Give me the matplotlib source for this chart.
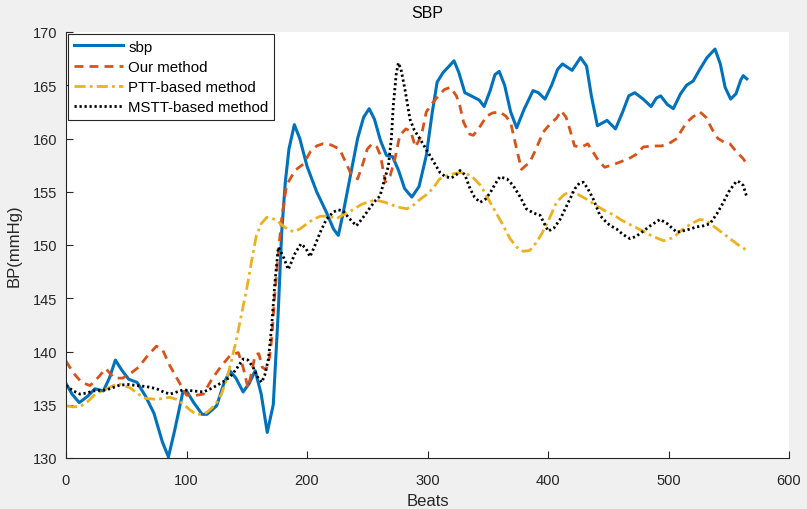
import matplotlib
matplotlib.use("Agg")
import matplotlib.pyplot as plt

plt.rcParams['font.family'] = ['Liberation Sans', 'DejaVu Sans']

# ---- data ----
sbp_x = [0, 5, 11, 18, 24, 31, 36, 41, 46, 52, 59, 66, 73, 80, 85, 90, 97, 100, 106, 113, 117, 125,
         131, 136, 141, 147, 152, 157, 162, 167, 172, 176, 179, 182, 185, 189.5, 194, 200, 208, 216,
         222, 226, 230, 236, 242, 247, 251.6, 256, 261, 266, 271, 276, 281, 287, 293, 299, 304, 308,
         313, 318, 322, 326, 331, 338, 343, 347, 352, 356, 359.5, 364, 369, 374, 380, 387.6, 392,
         397.5, 403, 408, 412, 420, 427, 432, 436, 441, 449, 456, 462, 467, 472, 479, 485.5, 490,
         493.5, 499, 504, 510, 515, 520.5, 526, 532, 538.6, 543, 547, 551.6, 556, 560, 562, 565]
sbp_y = [137.0, 136.0, 135.2, 135.8, 136.5, 136.3, 137.5, 139.2, 138.3, 137.4, 137.1, 135.8, 134.2,
         131.5, 130.1, 132.5, 136.2, 136.3, 135.2, 134.1, 134.1, 134.9, 137.0, 138.2, 137.5, 136.2,
         137.0, 138.2, 136.0, 132.4, 135.0, 143.4, 151.2, 155.9, 159.0, 161.3, 160.0, 157.4, 155.0,
         153.1, 151.5, 150.9, 153.0, 156.5, 160.0, 162.0, 162.8, 161.8, 159.8, 158.4, 158.3, 157.0,
         155.3, 154.5, 155.5, 158.4, 162.5, 165.3, 166.2, 166.8, 167.3, 166.2, 164.3, 163.9, 163.6,
         163.0, 164.5, 166.0, 166.3, 165.0, 162.5, 161.0, 162.7, 164.5, 164.3, 163.7, 165.0, 166.5,
         167.0, 166.4, 167.6, 166.8, 164.0, 161.2, 161.7, 160.9, 162.5, 164.0, 164.3, 163.7, 163.0,
         163.8, 164.0, 163.2, 162.8, 164.2, 165.0, 165.4, 166.5, 167.6, 168.4, 167.0, 164.8, 163.7,
         164.2, 165.5, 165.9, 165.6]

our_x = [0, 6, 13, 20, 27, 33, 40, 47, 53, 60, 67, 75, 80, 86, 93, 100, 106, 114, 121, 128, 136,
         143, 147, 151, 154, 157, 160, 163, 166, 169, 171, 173, 176, 179, 183, 190, 197, 203, 208,
         213, 220, 227, 232, 236, 242, 246, 250, 254, 258, 261, 265, 269, 273, 277, 282, 286, 290,
         295, 299, 304, 309, 314, 319, 324, 327, 330, 335, 338, 344, 349, 354, 360, 365, 369, 374,
         378, 385, 390, 396, 402, 407, 411, 415, 418, 422, 428, 433, 437, 442, 447, 453, 460, 467,
         473, 479, 486, 494, 500, 507, 511, 515, 520, 526, 531, 536, 541, 547, 551, 556, 562, 565]
our_y = [139.1, 138.0, 137.1, 136.8, 137.6, 138.4, 137.5, 137.5, 137.9, 138.5, 139.5, 140.5, 140.2,
         138.7, 137.3, 135.9, 135.85, 136.0, 137.4, 138.5, 139.6, 139.9, 138.5, 136.6, 138.0, 139.7,
         139.8, 138.5, 138.3, 139.5, 141.5, 145.0, 149.0, 152.5, 155.6, 157.0, 157.6, 158.8, 159.3,
         159.5, 159.4, 159.0, 157.8, 156.8, 156.2, 157.5, 159.0, 159.5, 159.2, 158.4, 155.9, 156.5,
         158.1, 160.3, 160.9, 160.7, 159.2, 160.3, 162.5, 163.3, 164.0, 164.6, 164.8, 164.0, 163.0,
         161.5, 160.4, 160.3, 161.2, 162.1, 162.4, 162.5, 162.1, 161.5, 159.0, 157.1, 157.8, 159.0,
         160.6, 161.4, 161.9, 162.6, 162.0, 160.9, 159.3, 159.2, 159.5, 158.8, 157.9, 157.3, 157.5,
         157.8, 158.1, 158.5, 159.2, 159.3, 159.3, 159.5, 160.0, 160.8, 161.5, 162.0, 162.5, 162.0,
         160.9, 160.0, 159.6, 159.5, 158.8, 158.1, 157.6]

ptt_x = [0, 6, 12, 18, 23, 28, 34, 43, 53, 60, 66, 75, 86, 92, 97, 103, 108, 113, 117, 121, 125,
         129, 133, 137, 141.6, 146, 150, 154, 158, 162, 166.6, 171, 175, 180, 185, 189, 194, 200,
         205, 211, 218, 225, 231, 238, 245, 252, 258, 265, 272, 278, 283, 289, 294, 300, 305, 310,
         316, 322, 327, 332.5, 338, 344, 349, 355, 362, 368.5, 374, 379.5, 385, 390, 394, 400, 407,
         413, 418, 424, 432, 440, 449, 455, 460, 470, 479, 487, 496, 504, 512, 519, 526, 531, 537,
         544, 551, 558, 565]
ptt_y = [134.9, 134.8, 134.85, 135.3, 135.85, 136.2, 136.5, 137.0, 136.6, 136.0, 135.6, 135.5, 135.7,
         135.5, 135.1, 134.5, 134.1, 134.1, 134.3, 134.7, 135.2, 136.0, 137.3, 139.0, 141.2, 143.7,
         145.9, 148.5, 150.9, 152.0, 152.6, 152.5, 152.3, 151.8, 151.4, 151.25, 151.5, 152.0, 152.4,
         152.7, 152.7, 152.5, 152.9, 153.3, 153.8, 154.1, 154.2, 154.0, 153.7, 153.5, 153.4, 153.8,
         154.3, 154.8, 155.4, 156.2, 156.5, 156.7, 156.8, 156.7, 156.3, 155.6, 154.6, 153.4, 152.0,
         150.6, 149.8, 149.4, 149.5, 150.2, 150.9, 152.2, 154.0, 154.7, 155.0, 154.8, 154.3, 153.7,
         153.1, 152.8, 152.4, 151.8, 151.3, 150.8, 150.4, 150.7, 151.5, 152.0, 152.4, 152.3, 151.8,
         151.2, 150.6, 150.0, 149.5]

mstt_x = [0, 6, 11.6, 17, 22.7, 33.8, 44.8, 52, 58.7, 67, 75.3, 81, 86.3, 92, 97.3, 105.6, 114, 120,
          125, 131, 136, 141, 147, 151, 155.4, 159, 162.4, 165, 168, 170.7, 173.4, 176.2, 180, 184.5,
          190, 195, 199, 202.5, 206, 211, 216, 221.8, 226, 230, 235, 241, 246, 252.3, 257, 260.6,
          264, 267.5, 270, 271.6, 274, 275.8, 278, 281.3, 285.5, 289, 293.8, 302, 310.4, 315, 320,
          324, 327, 331, 335.3, 339, 343.6, 348, 352, 356, 360, 366, 371, 377, 382, 388, 393.4, 397,
          400.2, 405, 410, 416, 422.4, 426, 429.3, 433, 437.6, 443, 448.7, 452, 457, 462, 468, 473,
          479, 486, 493, 499, 506.8, 515, 523.4, 529, 534.4, 540, 545.5, 550, 553.8, 556.6, 559, 562,
          565]
mstt_y = [136.8, 136.3, 136.0, 136.1, 136.3, 136.4, 136.85, 136.9, 136.8, 136.7, 136.5, 136.2, 136.0,
          136.2, 136.4, 136.3, 136.2, 136.5, 136.8, 137.2, 137.6, 138.3, 139.3, 139.2, 138.5, 137.6,
          137.1, 137.8, 139.3, 142.4, 146.5, 149.8, 149.0, 147.7, 149.2, 150.1, 149.7, 148.9, 149.8,
          151.2, 152.4, 153.1, 153.3, 153.2, 152.5, 151.8, 152.5, 153.5, 154.2, 154.6, 156.0, 157.4,
          160.0, 163.1, 166.0, 167.1, 166.5, 164.6, 161.8, 160.8, 159.95, 158.4, 156.8, 156.4, 156.3,
          156.6, 157.0, 156.6, 155.3, 154.5, 154.0, 154.3, 154.9, 155.7, 156.4, 156.2, 155.6, 154.5,
          153.4, 153.0, 152.8, 152.0, 151.3, 151.6, 152.4, 153.8, 155.3, 155.8, 155.9, 155.3, 154.3,
          152.8, 152.1, 151.8, 151.5, 151.0, 150.6, 150.8, 151.3, 151.9, 152.4, 152.0, 151.2, 151.4,
          151.7, 151.8, 152.0, 152.9, 154.0, 155.0, 155.6, 156.0, 155.9, 155.6, 154.5]

labels = ['sbp', 'Our method', 'PTT-based method', 'MSTT-based method']
x_ticks = [0, 100, 200, 300, 400, 500, 600]
y_ticks = [130, 135, 140, 145, 150, 155, 160, 165, 170]

# ---- figure ----
fig = plt.figure(figsize=(8.07, 5.10), dpi=100, facecolor='#f0f0f0')
ax = fig.add_axes([66 / 807, 51 / 510, 723 / 807, 426 / 510])
ax.set_facecolor('white')

ax.plot(sbp_x, sbp_y, color='#0072BD', lw=2.2, ls='-', label=labels[0])
ax.plot(our_x, our_y, color='#D95319', lw=2.0, ls=(0, (3.2, 2.2)), label=labels[1])
ax.plot(ptt_x, ptt_y, color='#EDB120', lw=2.0, ls=(0, (4, 1.5, 1, 1.5)), label=labels[2])
ax.plot(mstt_x, mstt_y, color='black', lw=2.0, ls=(0, (0.8, 1.0)), label=labels[3])

ax.set_xlim(0, 600)
ax.set_ylim(130, 170)
ax.set_xticks(x_ticks)
ax.set_yticks(y_ticks)

axc = '#262626'
for s in ['top', 'right']:
    ax.spines[s].set_visible(False)
for s in ['left', 'bottom']:
    ax.spines[s].set_color(axc)
    ax.spines[s].set_linewidth(0.8)
ax.tick_params(direction='in', length=5, width=0.8, colors=axc, labelsize=10.5,
               labelcolor=axc)
ax.tick_params(axis='x', pad=11)
ax.tick_params(axis='y', pad=6)

ax.set_title('SBP', fontsize=11.5, color='#000000', pad=11)
ax.set_xlabel('Beats', fontsize=12, color=axc, labelpad=4)
ax.set_ylabel('BP(mmHg)', fontsize=12, color=axc, labelpad=8)

leg = ax.legend(loc='upper left', bbox_to_anchor=(0.0, 1.0), fontsize=10.8,
                handlelength=3.3, handletextpad=0.35, borderpad=0.35, labelspacing=0.42,
                borderaxespad=0.15, fancybox=False, framealpha=1, edgecolor='#262626')
leg.get_frame().set_linewidth(0.8)

fig.savefig('out.png', dpi=100, facecolor=fig.get_facecolor())
